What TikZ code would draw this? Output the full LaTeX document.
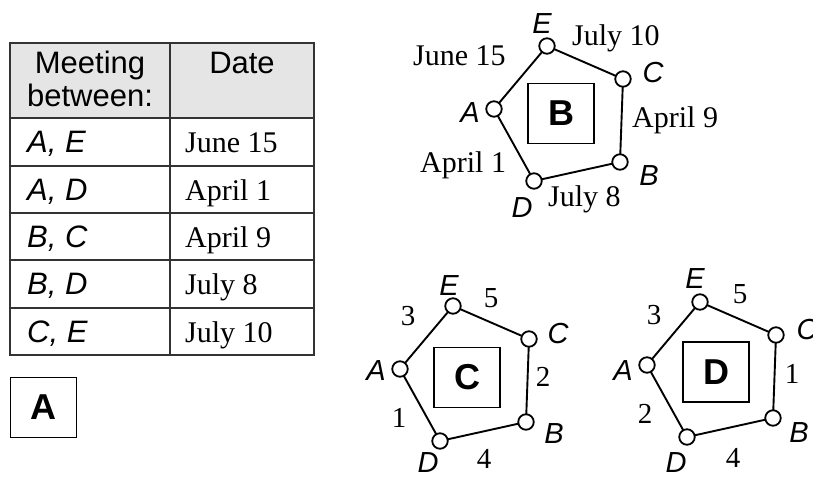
\documentclass[tikz,border=0pt]{standalone}
\usepackage{fontspec}
\setmainfont{Liberation Serif}
\setsansfont{Liberation Sans}
\begin{document}
\begin{tikzpicture}[x=1pt,y=-1pt,
  serif/.style={font=\fontsize{30}{36}\selectfont, inner sep=0pt},
  digit/.style={font=\fontsize{29}{34}\selectfont, inner sep=0pt, anchor=base},
  letter/.style={font=\fontsize{29}{34}\selectfont\sffamily\itshape, inner sep=0pt, anchor=base},
  tsans/.style={font=\fontsize{31}{36}\selectfont\sffamily, inner sep=0pt},
  titem/.style={font=\fontsize{31}{36}\selectfont\sffamily\itshape, inner sep=0pt, anchor=base west},
  tdate/.style={font=\fontsize{30}{36}\selectfont, inner sep=0pt, anchor=base west},
  vert/.style={circle, draw, line width=1.8pt, fill=white, minimum size=15.5pt, inner sep=0pt},
  edge/.style={line width=1.9pt},
  panel/.style={draw, line width=1.8pt, minimum width=66pt, minimum height=60pt, inner sep=0pt,
    font=\fontsize{36}{40}\selectfont\sffamily\bfseries},
  grid/.style={draw=black!80, line width=1.8pt}
]
\useasboundingbox (0,0) rectangle (813,477);

% ---------- Table ----------
\fill[black!10] (10,43) rectangle (314,118);
\draw[grid] (10,43) rectangle (314,355);
\draw[grid] (170,43) -- (170,355);
\foreach \yy in {118,166,213,260,308} \draw[grid] (10,\yy) -- (314,\yy);
\node[tsans, anchor=base] (h1) at (90,73) {Meeting};
\node[tsans, anchor=base] (h2) at (90,106) {between:};
\node[tsans, anchor=base] (h3) at (242,73) {Date};
\node[titem] (r1) at (27,152) {A, E};
\node[tdate] (d1) at (185,152) {June 15};
\node[titem] (r2) at (27,200) {A, D};
\node[tdate] (d2) at (185,200) {April 1};
\node[titem] (r3) at (27,247) {B, C};
\node[tdate] (d3) at (185,247) {April 9};
\node[titem] (r4) at (27,294) {B, D};
\node[tdate] (d4) at (185,294) {July 8};
\node[titem] (r5) at (27,342) {C, E};
\node[tdate] (d5) at (185,342) {July 10};

\node[panel] (pA) at (43.5,407.5) {A};

% ---------- Pentagon B ----------
\begin{scope}[shift={(94,-260)}]
  \coordinate (bE) at (453,306);
  \coordinate (bC) at (529,339);
  \coordinate (bA) at (400,369);
  \coordinate (bB) at (526,422);
  \coordinate (bD) at (440,441);
\end{scope}
\draw[edge] (bE) -- (bC) -- (bB) -- (bD) -- (bA) -- cycle;
\foreach \v in {bE,bC,bA,bB,bD} \node[vert] (n\v) at (\v) {};
\node[panel] (pB) at (561,113.5) {B};
\node[letter] (lbE) at (542,33) {E};
\node[letter] (lbC) at (653,82) {C};
\node[letter] (lbA) at (470,122) {A};
\node[letter] (lbB) at (649,185) {B};
\node[letter] (lbD) at (522,217) {D};
\node[serif, anchor=base west] (tEC) at (572,45) {July 10};
\node[serif, anchor=base west] (tAE) at (413,65) {June 15};
\node[serif, anchor=base west] (tCB) at (632,127) {April 9};
\node[serif, anchor=base west] (tAD) at (420,172) {April 1};
\node[serif, anchor=base west] (tDB) at (548,206) {July 8};

% ---------- Pentagon C ----------
\coordinate (cE) at (453,306);
\coordinate (cC) at (529,339);
\coordinate (cA) at (400,369);
\coordinate (cB) at (526,422);
\coordinate (cD) at (440,441);
\draw[edge] (cE) -- (cC) -- (cB) -- (cD) -- (cA) -- cycle;
\foreach \v in {cE,cC,cA,cB,cD} \node[vert] (n\v) at (\v) {};
\node[panel] (pC) at (467,377.5) {C};
\node[letter] (lcE) at (449,295) {E};
\node[letter] (lcC) at (558,343) {C};
\node[letter] (lcA) at (376,380) {A};
\node[letter] (lcB) at (554,443) {B};
\node[letter] (lcD) at (428,472) {D};
\node[digit] (c5) at (491,307) {5};
\node[digit] (c3) at (408,325) {3};
\node[digit] (c2) at (543,386) {2};
\node[digit] (c1) at (399,427) {1};
\node[digit] (c4) at (484,468) {4};

% ---------- Pentagon D ----------
\begin{scope}[shift={(247,-4)}]
  \coordinate (dE) at (453,306);
  \coordinate (dC) at (529,339);
  \coordinate (dA) at (400,369);
  \coordinate (dB) at (526,422);
  \coordinate (dD) at (440,441);
\end{scope}
\draw[edge] (dE) -- (dC) -- (dB) -- (dD) -- (dA) -- cycle;
\foreach \v in {dE,dC,dA,dB,dD} \node[vert] (n\v) at (\v) {};
\node[panel] (pD) at (716,372) {D};
\node[letter] (ldE) at (695,288) {E};
\node[letter] (ldC) at (807,339) {C};
\node[letter] (ldA) at (623,380) {A};
\node[letter] (ldB) at (799,442) {B};
\node[letter] (ldD) at (676,472) {D};
\node[digit] (d5) at (740,303) {5};
\node[digit] (d3) at (654,324) {3};
\node[digit] (d1) at (792,383) {1};
\node[digit] (d2) at (645,423) {2};
\node[digit] (d4) at (733,467) {4};
\end{tikzpicture}
\end{document}
